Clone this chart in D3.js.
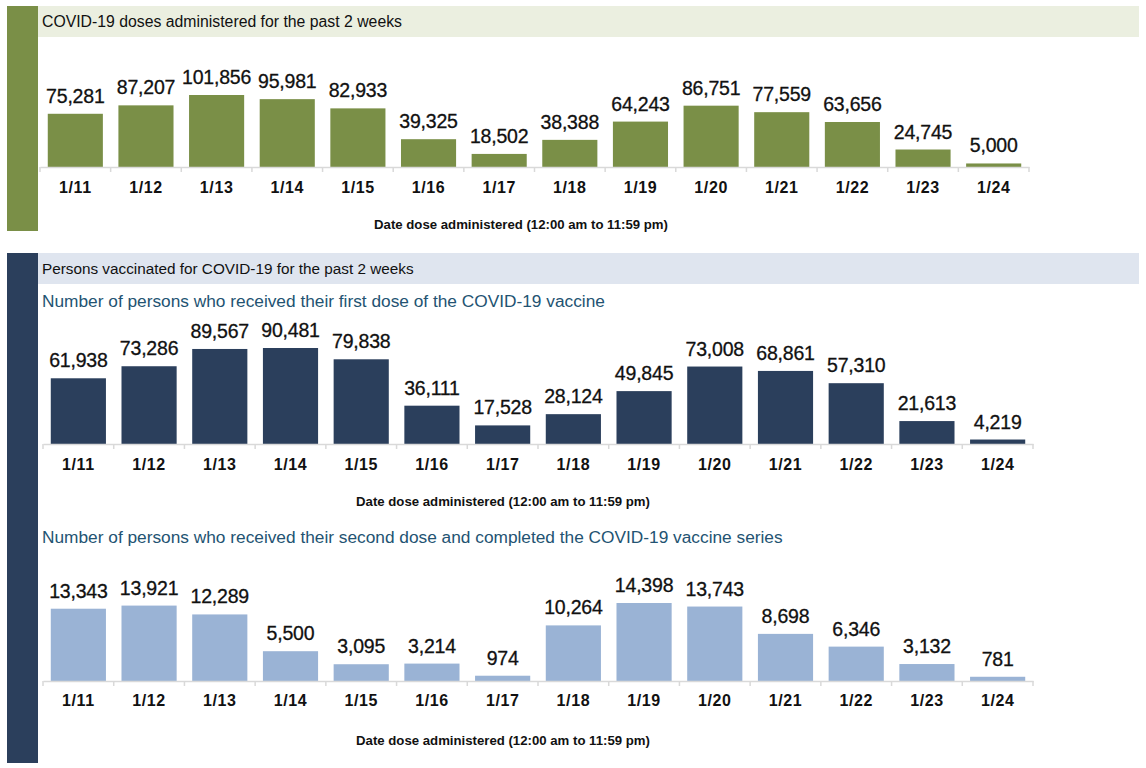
<!DOCTYPE html>
<html>
<head>
<meta charset="utf-8">
<script src="https://cdn.jsdelivr.net/npm/d3@7"></script>
<style>
  html, body { margin: 0; padding: 0; background: #fff; }
  svg { display: block; }
</style>
</head>
<body>
<svg id="chart" width="1146" height="768"></svg>
<script>
const dates = ["1/11","1/12","1/13","1/14","1/15","1/16","1/17","1/18","1/19","1/20","1/21","1/22","1/23","1/24"];
const dosesAdministered = [75281, 87207, 101856, 95981, 82933, 39325, 18502, 38388, 64243, 86751, 77559, 63656, 24745, 5000];
const firstDose = [61938, 73286, 89567, 90481, 79838, 36111, 17528, 28124, 49845, 73008, 68861, 57310, 21613, 4219];
const secondDose = [13343, 13921, 12289, 5500, 3095, 3214, 974, 10264, 14398, 13743, 8698, 6346, 3132, 781];
const panel1Title = "COVID-19 doses administered for the past 2 weeks";
const panel2Title = "Persons vaccinated for COVID-19 for the past 2 weeks";
const sub1 = "Number of persons who received their first dose of the COVID-19 vaccine";
const sub2 = "Number of persons who received their second dose and completed the COVID-19 vaccine series";
const axisTitle = "Date dose administered (12:00 am to 11:59 pm)";

const svg = d3.select("#chart");
const FONT = "'Liberation Sans',Arial,sans-serif";

// Panel decorations
svg.append("rect").attr("x", 7).attr("y", 6).attr("width", 31).attr("height", 225).attr("fill", "#7a8f47");
svg.append("rect").attr("x", 38).attr("y", 6).attr("width", 1101).attr("height", 31).attr("fill", "#ebefe0");
svg.append("text").attr("x", 42).attr("y", 27).text(panel1Title)
  .attr("font-family", FONT).attr("font-size", 15.8).attr("fill", "#111");

svg.append("rect").attr("x", 7).attr("y", 253).attr("width", 31).attr("height", 510).attr("fill", "#2b3f5c");
svg.append("rect").attr("x", 38).attr("y", 253).attr("width", 1101).attr("height", 31).attr("fill", "#dfe5ef");
svg.append("text").attr("x", 42).attr("y", 274).text(panel2Title)
  .attr("font-family", FONT).attr("font-size", 15.3).attr("fill", "#111");

svg.append("text").attr("x", 42).attr("y", 307).text(sub1)
  .attr("font-family", FONT).attr("font-size", 17.3).attr("fill", "#235372");
svg.append("text").attr("x", 42).attr("y", 543).text(sub2)
  .attr("font-family", FONT).attr("font-size", 17.3).attr("fill", "#235372");

function barChart(values, opt) {
  const g = svg.append("g");
  const x = d3.scaleBand().domain(dates).range([opt.x0, opt.x1]).paddingInner(0.22).paddingOuter(0.11);
  const maxV = d3.max(values);
  const y = d3.scaleLinear().domain([0, maxV]).range([opt.base, opt.base - opt.maxH]);
  const data = dates.map((d, i) => ({ date: d, value: values[i] }));

  g.selectAll("rect.bar").data(data).join("rect").attr("class", "bar")
    .attr("x", d => x(d.date)).attr("width", x.bandwidth())
    .attr("y", d => y(d.value)).attr("height", d => y(0) - y(d.value))
    .attr("fill", opt.color);

  g.selectAll("text.val").data(data).join("text").attr("class", "val")
    .attr("x", d => x(d.date) + x.bandwidth() / 2)
    .attr("y", d => y(d.value) - 11)
    .attr("text-anchor", "middle")
    .attr("font-family", FONT).attr("font-size", 19.5).attr("letter-spacing", -0.2)
    .attr("fill", "#111").attr("stroke", "#111").attr("stroke-width", 0.3)
    .text(d => d3.format(",")(d.value));

  // axis
  const axis = d3.axisBottom(x).tickSize(0).tickPadding(0);
  const ag = g.append("g").attr("transform", `translate(0,${opt.base})`).call(axis);
  ag.select(".domain").attr("stroke", "#d9d9d9").attr("stroke-width", 1.5);
  ag.selectAll(".tick text").attr("font-family", FONT).attr("font-size", 16)
    .attr("font-weight", "bold").attr("fill", "#111").attr("letter-spacing", 0.6)
    .attr("dy", null).attr("y", opt.tickDy);
  const half = x.step() * x.paddingInner() / 2;
  const bounds = dates.map(d => x(d) - half).concat([x(dates[dates.length - 1]) + x.bandwidth() + half]);
  ag.selectAll("line.bnd").data(bounds).join("line").attr("class", "bnd")
    .attr("x1", d => d).attr("x2", d => d).attr("y1", 0).attr("y2", 5)
    .attr("stroke", "#d9d9d9").attr("stroke-width", 1.5);

  g.append("text").attr("x", opt.titleX).attr("y", opt.titleY)
    .attr("text-anchor", "middle").attr("font-family", FONT).attr("font-size", 13.2)
    .attr("font-weight", "bold").attr("fill", "#111").text(axisTitle);
}

barChart(dosesAdministered, { x0: 40, x1: 1029, base: 167, maxH: 72, color: "#7a8f47", titleX: 521, titleY: 229, tickDy: 26 });
barChart(firstDose, { x0: 43, x1: 1033, base: 444, maxH: 96, color: "#2b3f5c", titleX: 503, titleY: 506, tickDy: 26 });
barChart(secondDose, { x0: 43, x1: 1033, base: 681, maxH: 78, color: "#9ab3d5", titleX: 503, titleY: 745, tickDy: 25 });
</script>
</body>
</html>
